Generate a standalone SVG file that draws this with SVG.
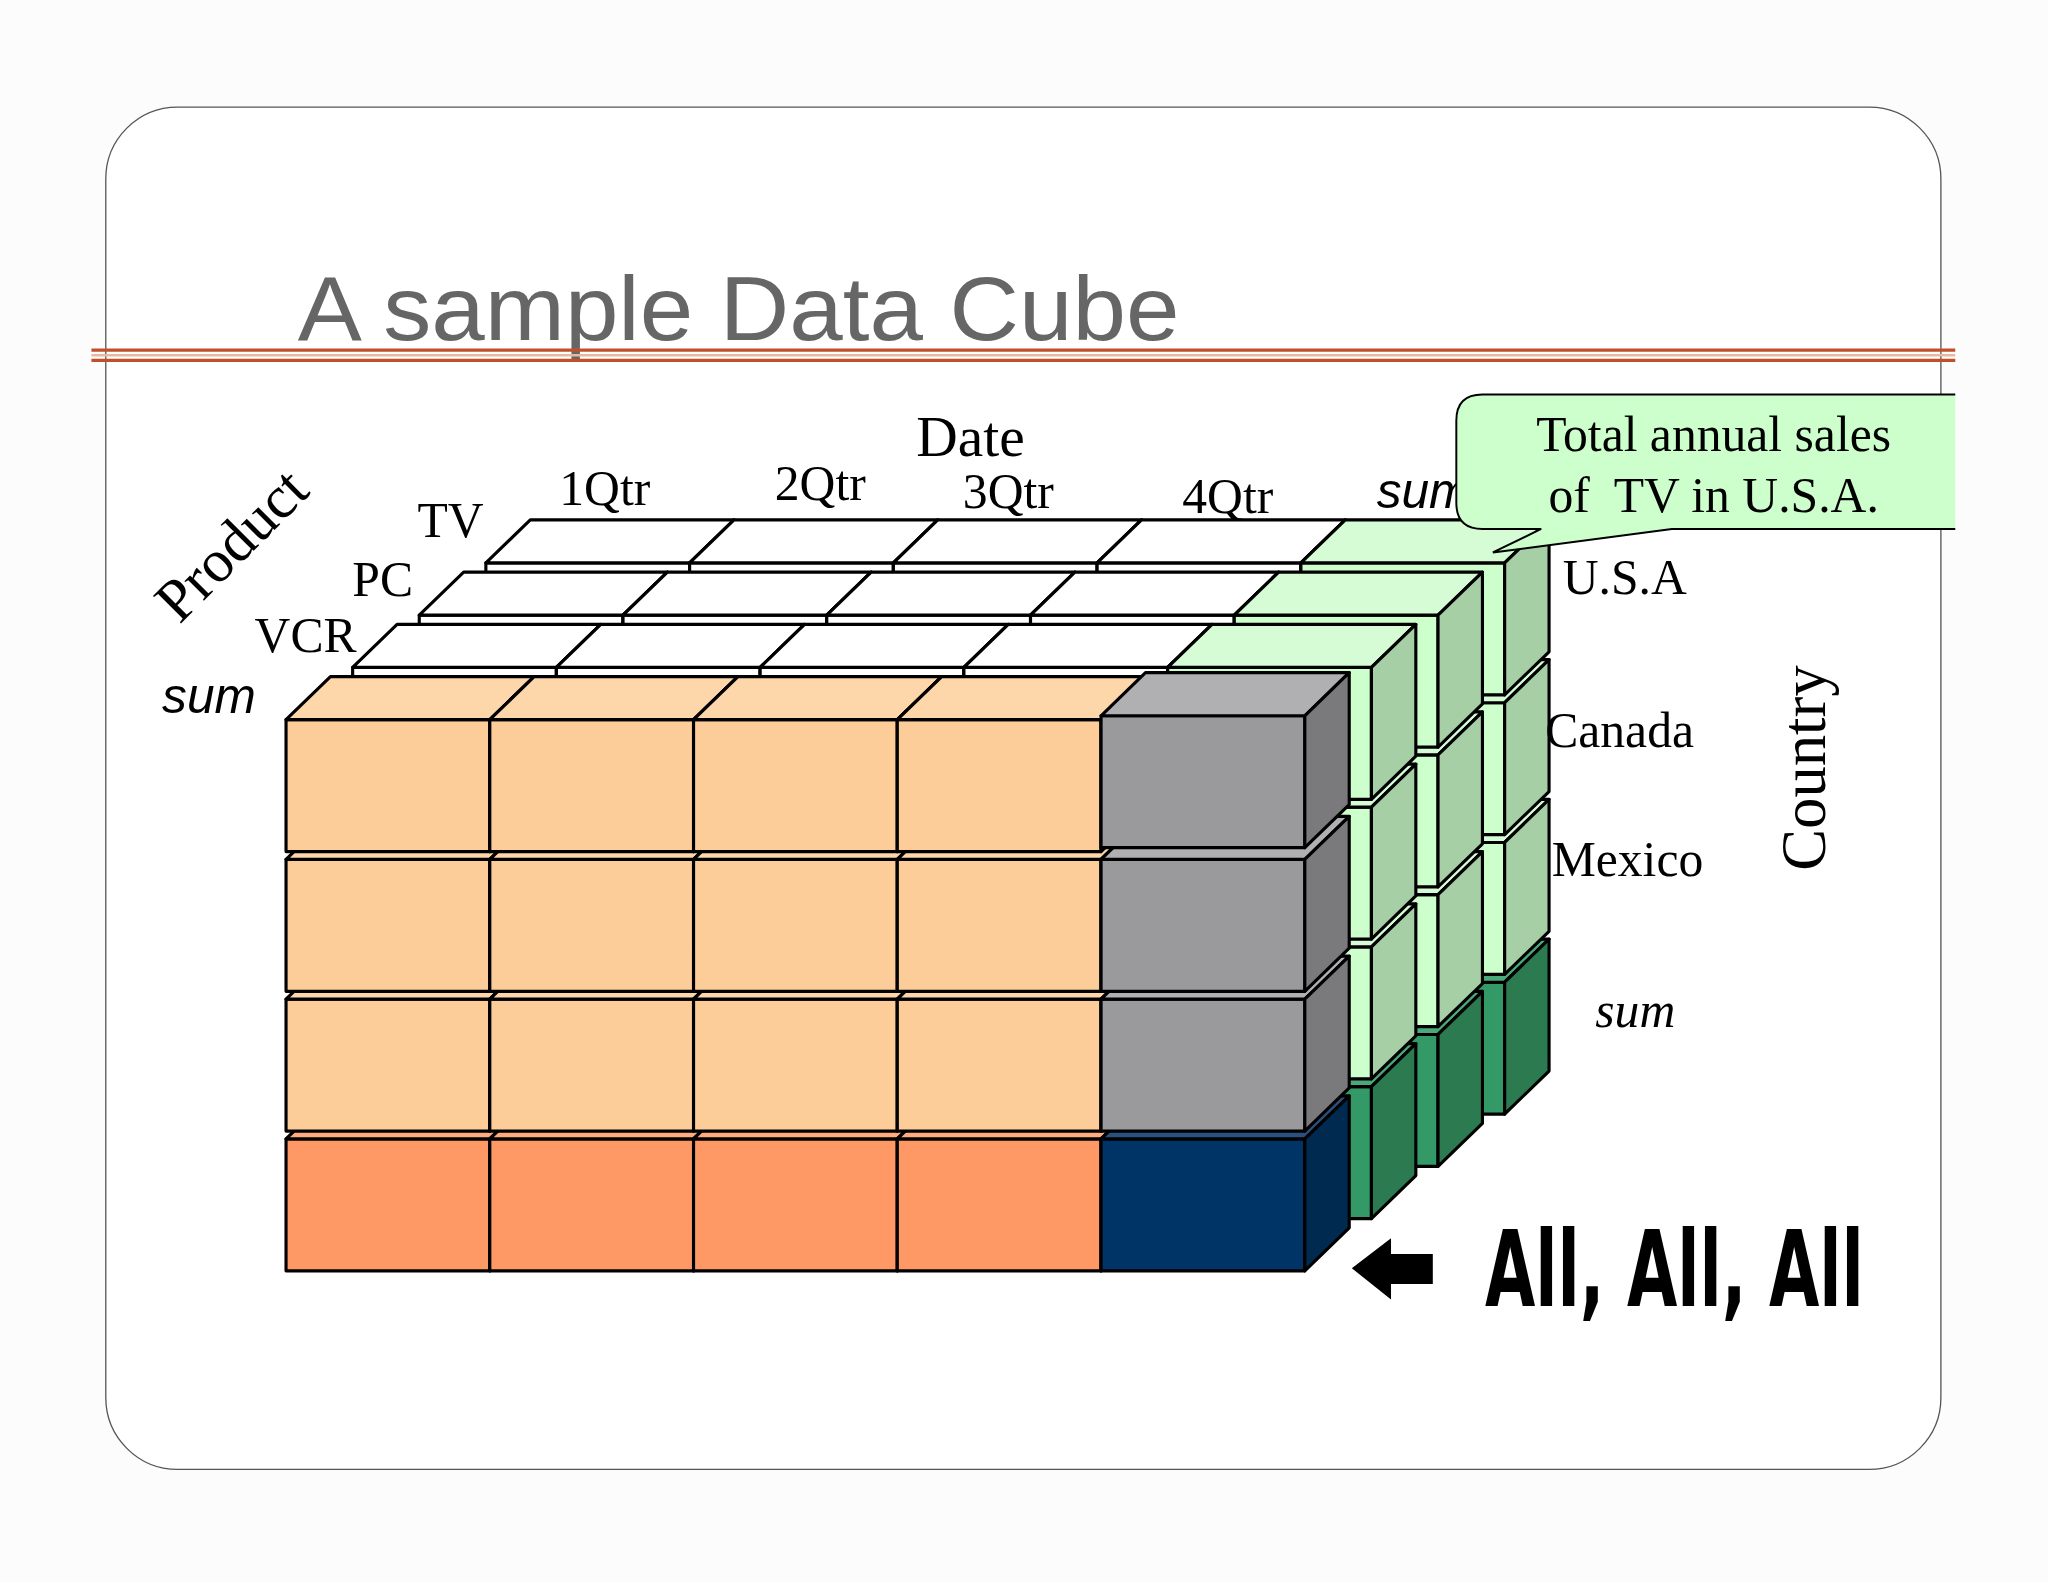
<svg xmlns="http://www.w3.org/2000/svg" xmlns:xlink="http://www.w3.org/1999/xlink" width="2048" height="1582" viewBox="0 0 2048 1582">
<style>
.e{stroke:#000;stroke-width:2.4;stroke-linejoin:round}
.t{font-family:"Liberation Serif",serif;fill:#000}
.i{font-family:"Liberation Sans",sans-serif;font-style:italic;fill:#000}
</style>
<defs>
<g id="white"><rect class="e" width="156" height="101" fill="#fff"/><polygon class="e" points="0,0 156,0 190,-33 34,-33" fill="#fff"/><polygon class="e" points="156,0 190,-33 190,68 156,101" fill="#fff"/></g>
<g id="peach"><rect class="e" width="156" height="101" fill="#fccc99"/><polygon class="e" points="0,0 156,0 190,-33 34,-33" fill="#fdd6aa"/><polygon class="e" points="156,0 190,-33 190,68 156,101" fill="#e0b080"/></g>
<g id="orange"><rect class="e" width="156" height="101" fill="#fe9966"/><polygon class="e" points="0,0 156,0 190,-33 34,-33" fill="#feab80"/><polygon class="e" points="156,0 190,-33 190,68 156,101" fill="#d88050"/></g>
<g id="gray"><rect class="e" width="156" height="101" fill="#9a999b"/><polygon class="e" points="0,0 156,0 190,-33 34,-33" fill="#b0afb1"/><polygon class="e" points="156,0 190,-33 190,68 156,101" fill="#7a797b"/></g>
<g id="navy"><rect class="e" width="156" height="101" fill="#003366"/><polygon class="e" points="0,0 156,0 190,-33 34,-33" fill="#2a5080"/><polygon class="e" points="156,0 190,-33 190,68 156,101" fill="#002a50"/></g>
<g id="green"><rect class="e" width="156" height="101" fill="#ccffcc"/><polygon class="e" points="0,0 156,0 190,-33 34,-33" fill="#d6fcd6"/><polygon class="e" points="156,0 190,-33 190,68 156,101" fill="#a6cfa6"/></g>
<g id="dgreen"><rect class="e" width="156" height="101" fill="#339966"/><polygon class="e" points="0,0 156,0 190,-33 34,-33" fill="#4aa87a"/><polygon class="e" points="156,0 190,-33 190,68 156,101" fill="#2b7a50"/></g>
</defs>
<rect width="2048" height="1582" fill="#fcfcfc"/>
<g transform="scale(1.30612)">
<rect x="81" y="82" width="1405" height="1043" rx="55" fill="#fff" stroke="#555" stroke-width="1"/>
<text x="228" y="260" font-family="Liberation Sans,sans-serif" font-size="70" fill="#666" textLength="675" lengthAdjust="spacingAndGlyphs">A sample Data Cube</text>
<g stroke="#c0502a" stroke-width="2.5"><line x1="70" y1="268" x2="1497" y2="268"/><line x1="70" y1="276" x2="1497" y2="276"/></g>
<line x1="70" y1="272" x2="1497" y2="272" stroke="#e8b8a0" stroke-width="2"/>

<g id="layer3">
<use href="#white" x="372" y="431"/><use href="#white" x="528" y="431"/><use href="#white" x="684" y="431"/><use href="#white" x="840" y="431"/>
<use href="#dgreen" x="996" y="752"/><use href="#green" x="996" y="645"/><use href="#green" x="996" y="538"/><use href="#green" x="996" y="431"/>
</g>
<g id="layer2">
<use href="#white" x="321" y="471"/><use href="#white" x="477" y="471"/><use href="#white" x="633" y="471"/><use href="#white" x="789" y="471"/>
<use href="#dgreen" x="945" y="792"/><use href="#green" x="945" y="685"/><use href="#green" x="945" y="578"/><use href="#green" x="945" y="471"/>
</g>
<g id="layer1">
<use href="#white" x="270" y="511"/><use href="#white" x="426" y="511"/><use href="#white" x="582" y="511"/><use href="#white" x="738" y="511"/>
<use href="#dgreen" x="894" y="832"/><use href="#green" x="894" y="725"/><use href="#green" x="894" y="618"/><use href="#green" x="894" y="511"/>
</g>
<g id="layer0">
<use href="#orange" x="219" y="872"/><use href="#orange" x="375" y="872"/><use href="#orange" x="531" y="872"/><use href="#orange" x="687" y="872"/><use href="#navy" x="843" y="872"/>
<use href="#peach" x="219" y="765"/><use href="#peach" x="375" y="765"/><use href="#peach" x="531" y="765"/><use href="#peach" x="687" y="765"/><use href="#gray" x="843" y="765"/>
<use href="#peach" x="219" y="658"/><use href="#peach" x="375" y="658"/><use href="#peach" x="531" y="658"/><use href="#peach" x="687" y="658"/><use href="#gray" x="843" y="658"/>
<use href="#peach" x="219" y="551"/><use href="#peach" x="375" y="551"/><use href="#peach" x="531" y="551"/><use href="#peach" x="687" y="551"/><use href="#gray" x="843" y="548"/>
</g>

<g id="labels" text-anchor="middle">
<text class="t" x="743" y="349" font-size="44">Date</text>
<text class="t" x="463" y="387" font-size="38">1Qtr</text>
<text class="t" x="628" y="383" font-size="38">2Qtr</text>
<text class="t" x="772" y="389" font-size="38">3Qtr</text>
<text class="t" x="940" y="393" font-size="38">4Qtr</text>
<text class="i" x="1054" y="389" font-size="38" text-anchor="start">sum</text>
<text class="t" x="345" y="411" font-size="38">TV</text>
<text class="t" x="293" y="456" font-size="38">PC</text>
<text class="t" x="234" y="499" font-size="38">VCR</text>
<text class="i" x="160" y="546" font-size="38">sum</text>
<text class="t" transform="translate(188,428) rotate(-45)" font-size="46">Product</text>
<text class="t" x="1244" y="455" font-size="38">U.S.A</text>
<text class="t" x="1240" y="572" font-size="38">Canada</text>
<text class="t" x="1246" y="671" font-size="38">Mexico</text>
<text class="t" x="1252" y="786" font-size="38" font-style="italic">sum</text>
<text class="t" transform="translate(1397,588) rotate(-90)" font-size="48">Country</text>
</g>

<g id="callout">
<path d="M1497,302 L1135,302 Q1115,302 1115,322 L1115,385 Q1115,405 1135,405 L1180,405 L1143,423 L1280,405 L1497,405" fill="#ccffcc" stroke="#000" stroke-width="1.5"/>
<text class="t" x="1312" y="345" font-size="38" text-anchor="middle">Total annual sales</text>
<text class="t" x="1312" y="392" font-size="38" text-anchor="middle" xml:space="preserve">of  TV in U.S.A.</text>
</g>

<g id="allarrow">
<polygon points="1035,971 1065,948 1065,960 1097,960 1097,983 1065,983 1065,995" fill="#000"/>
<text x="1137" y="1000" font-family="DejaVu Sans Condensed,DejaVu Sans,sans-serif" font-weight="bold" font-size="80" textLength="290" lengthAdjust="spacingAndGlyphs" fill="#000">All, All, All</text>
</g>
</g>
</svg>
